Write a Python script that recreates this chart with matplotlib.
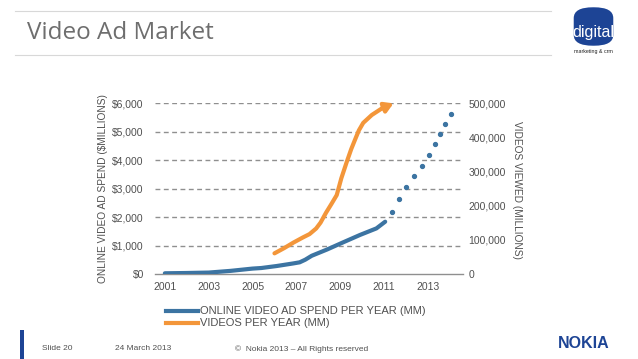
import matplotlib
matplotlib.use("Agg")
import matplotlib.pyplot as plt
from matplotlib.lines import Line2D
from matplotlib.patches import FancyBboxPatch, Rectangle

# online video ad spend ($ millions), actual and projected
spend_years = [2001.0, 2002.0, 2003.0, 2004.0, 2005.0, 2005.4, 2006.1, 2006.85,
               2007.15, 2007.4, 2007.7, 2008.4, 2009.1, 2009.9, 2010.65, 2011.05]
spend = [25, 35, 50, 110, 190, 210, 280, 370, 410, 500, 640, 860, 1100, 1370,
         1600, 1835]
proj_years = [2011.37, 2011.68, 2012.0, 2012.37, 2012.73, 2013.05, 2013.33,
              2013.56, 2013.79, 2014.06]
proj_spend = [2175, 2630, 3050, 3440, 3790, 4175, 4560, 4910, 5260, 5610]

# videos viewed per year (millions)
video_years = [2006.0, 2006.45, 2006.86, 2007.3, 2007.6, 2007.9, 2008.1, 2008.35,
               2008.6, 2008.84, 2009.05, 2009.3, 2009.5, 2009.7, 2009.85, 2010.05,
               2010.44, 2010.9, 2011.43]
videos = [60400, 76000, 91700, 107000, 116700, 133000, 150000, 179000,
          205000, 230800, 280000, 328300, 365000, 396700, 420000, 442000,
          465000, 484200, 499000]

year_ticks = [2001, 2003, 2005, 2007, 2009, 2011, 2013]
spend_ticks = [0, 1000, 2000, 3000, 4000, 5000, 6000]
spend_labels = ["$0", "$1,000", "$2,000", "$3,000", "$4,000", "$5,000", "$6,000"]
video_ticks = [0, 100000, 200000, 300000, 400000, 500000]
video_labels = ["0", "100,000", "200,000", "300,000", "400,000", "500,000"]

blue = "#3c74a2"
orange = "#f3963a"
txt = "#505050"
brand = "#1d4495"

plt.rcParams["font.family"] = ["Liberation Sans", "DejaVu Sans"]

W, H = 638, 359
fig = plt.figure(figsize=(W / 100, H / 100), dpi=100)
fig.patch.set_facecolor("white")


def fx(px):
    return px / W


def fy(py):
    return 1 - py / H


ax = fig.add_axes([fx(155), fy(274), fx(463) - fx(155), fy(103) - fy(274)])
ax.set_xlim(2000.55, 2014.6)
ax.set_ylim(0, 6000)

for v in spend_ticks[1:]:
    ax.axhline(v, color="#8f8f8f", lw=1.0, ls=(0, (3.5, 2.5)), zorder=1)

ax.plot(spend_years, spend, color=blue, lw=3, solid_capstyle="round",
        solid_joinstyle="round", zorder=3)
ax.plot(proj_years, proj_spend, ls="none", marker="o", ms=2.8, color=blue, zorder=3)

ax.set_yticks(spend_ticks)
ax.set_yticklabels(spend_labels)
ax.set_xticks(year_ticks)
ax.tick_params(axis="y", length=0, pad=8, labelsize=7.5, labelcolor=txt)
ax.tick_params(axis="x", length=0, pad=6, labelsize=7.5, labelcolor=txt)
for s in ["top", "left", "right"]:
    ax.spines[s].set_visible(False)
ax.spines["bottom"].set_color("#8f8f8f")
ax.spines["bottom"].set_linewidth(1.0)
ax.set_ylabel("ONLINE VIDEO AD SPEND ($MILLIONS)", color=txt, fontsize=7.3,
              labelpad=3)

ax2 = ax.twinx()
ax2.set_ylim(0, 500000)
ax2.plot(video_years[:-1], videos[:-1], color=orange, lw=3,
         solid_capstyle="round", solid_joinstyle="round", zorder=3)
ax2.annotate("", xy=(video_years[-1], videos[-1]),
             xytext=(video_years[-2], videos[-2]),
             arrowprops=dict(arrowstyle="-|>,head_length=0.5,head_width=0.3",
                             color=orange, lw=3, shrinkA=0, shrinkB=0))
ax2.set_yticks(video_ticks)
ax2.set_yticklabels(video_labels)
ax2.tick_params(axis="y", length=0, pad=4, labelsize=7.5, labelcolor=txt)
for s in ["top", "left", "right", "bottom"]:
    ax2.spines[s].set_visible(False)
fig.text(fx(517), fy(190), "VIDEOS VIEWED (MILLIONS)", color=txt, fontsize=7.3,
         rotation=-90, ha="center", va="center")

# legend drawn under the chart
fig.add_artist(Line2D([fx(166), fx(198)], [fy(311), fy(311)], color=blue, lw=3))
fig.add_artist(Line2D([fx(166), fx(198)], [fy(322.5), fy(322.5)], color=orange, lw=3))
fig.text(fx(200), fy(311), "ONLINE VIDEO AD SPEND PER YEAR (MM)", color=txt,
         fontsize=8, va="center")
fig.text(fx(200), fy(322.5), "VIDEOS PER YEAR (MM)", color=txt,
         fontsize=8, va="center")

# slide header
fig.add_artist(Line2D([fx(15), fx(551)], [fy(11), fy(11)], color="#d8d8d8", lw=0.8))
fig.add_artist(Line2D([fx(15), fx(551)], [fy(55), fy(55)], color="#d8d8d8", lw=0.8))
fig.text(fx(27), fy(33), "Video Ad Market", color="#6e6e6e", fontsize=17.5,
         va="center", family=["Open Sans", "DejaVu Sans"])

# digital marketing logo
fig.add_artist(FancyBboxPatch((fx(575), fy(45)), fx(37), fy(8) - fy(45),
                              boxstyle="round,pad=0.002,rounding_size=0.03",
                              transform=fig.transFigure, facecolor=brand,
                              edgecolor="none"))
fig.text(fx(593), fy(33), "digital", color="white", fontsize=11.5,
         ha="center", va="center")
fig.text(fx(593), fy(52), "marketing & crm", color="#222222", fontsize=3.8,
         ha="center", va="center")

# footer
fig.add_artist(Rectangle((fx(20), 0), fx(4), fy(330), transform=fig.transFigure,
                         facecolor=brand, edgecolor="none"))
fig.text(fx(42), fy(348), "Slide 20", color=txt, fontsize=6, va="center")
fig.text(fx(115), fy(349), "24 March 2013", color=txt, fontsize=6, va="center")
fig.text(fx(235), fy(349), "\u00a9  Nokia 2013 \u2013 All Rights reserved",
         color=txt, fontsize=6, va="center")
fig.text(fx(584), fy(343), "NOKIA", color=brand, fontsize=11.5, fontweight="bold",
         ha="center", va="center")

fig.savefig("out.png", dpi=100, facecolor="white")
